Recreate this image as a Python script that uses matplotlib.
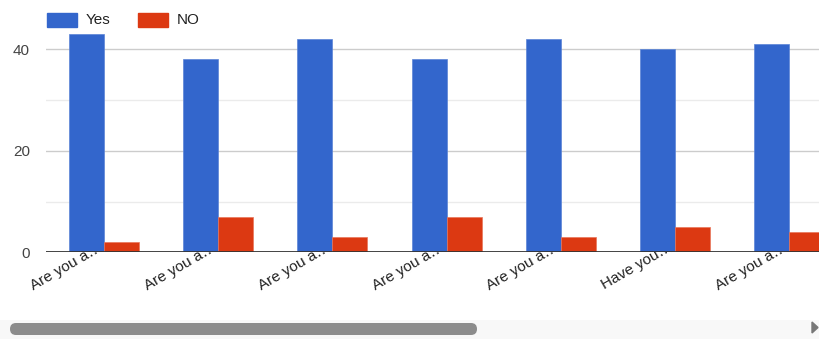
import numpy as np
import matplotlib.pyplot as plt
from matplotlib.patches import Rectangle, FancyBboxPatch, Polygon
from matplotlib.transforms import ScaledTranslation

plt.rcParams['font.family'] = ['Liberation Sans', 'DejaVu Sans']

# survey answers (chart is scrolled, last group cut off on the right)
questions = ['Are you a…', 'Are you a…', 'Are you a…', 'Are you a…',
             'Are you a…', 'Have you…', 'Are you a…']
yes_counts = [43, 38, 42, 38, 42, 40, 41]
no_counts = [2, 7, 3, 7, 3, 5, 4]

W, H = 820, 339
fig = plt.figure(figsize=(W/100, H/100), dpi=100)
ax = fig.add_axes([46/W, (H-252.3)/H, 774/W, 222.3/H])

x = np.arange(len(questions))
bw = 0.306
ax.bar(x - bw/2, yes_counts, bw, color='#3366cc', edgecolor='#5b84d6', linewidth=0.5)
ax.bar(x + bw/2, no_counts, bw, color='#dc3912', edgecolor='#e8765b', linewidth=0.5)

ax.set_xlim(-0.508, 6.27)
ax.set_ylim(0, 43.8)

ax.set_yticks([0, 20, 40])
ax.set_yticks([10, 30], minor=True)
ax.grid(axis='y', which='major', color='#cccccc', linewidth=1)
ax.grid(axis='y', which='minor', color='#ebebeb', linewidth=1)
ax.set_axisbelow(True)
ax.axhline(0, color='#333333', linewidth=2, zorder=5)
for s in ax.spines.values():
    s.set_visible(False)
ax.tick_params(axis='y', which='both', length=0, pad=11.5, labelsize=11, labelcolor='#444444')

ax.set_xticks(x)
ax.set_xticklabels(questions, rotation=30, ha='right', va='center',
                   rotation_mode='anchor', fontsize=11, color='#222222')
ax.tick_params(axis='x', length=0, pad=0)
# labels in the original end right on the baseline
shift = ScaledTranslation(-3/100, 6/100, fig.dpi_scale_trans)
for lab in ax.get_xticklabels():
    lab.set_transform(lab.get_transform() + shift)
    lab.set_zorder(6)

# legend
def fx(px): return px / W
def fy(py): return (H - py) / H
for x0, lab, col in [(47, 'Yes', '#3366cc'), (138, 'NO', '#dc3912')]:
    fig.patches.append(Rectangle((fx(x0), fy(27)), 30/W, 14/H, color=col,
                                 transform=fig.transFigure))
    fig.text(fx(x0 + 39), fy(20.5), lab, fontsize=11, color='#222222', va='center')

# scrollbar strip at the bottom, in pixel units
sb = fig.add_axes([0, 0, 1, 19/H])
sb.set_xlim(0, W)
sb.set_ylim(H, H - 19)
sb.axis('off')
sb.add_patch(Rectangle((0, H - 19), W, 19, color='#f8f8f8'))
sb.add_patch(FancyBboxPatch((10, 323), 467, 12, boxstyle='round,pad=0,rounding_size=6',
                            color='#8c8c8c', linewidth=0))
sb.add_patch(Polygon([(812, 322), (812, 333), (818, 327.5)], closed=True, color='#777777'))

fig.savefig('out.png', dpi=100)
